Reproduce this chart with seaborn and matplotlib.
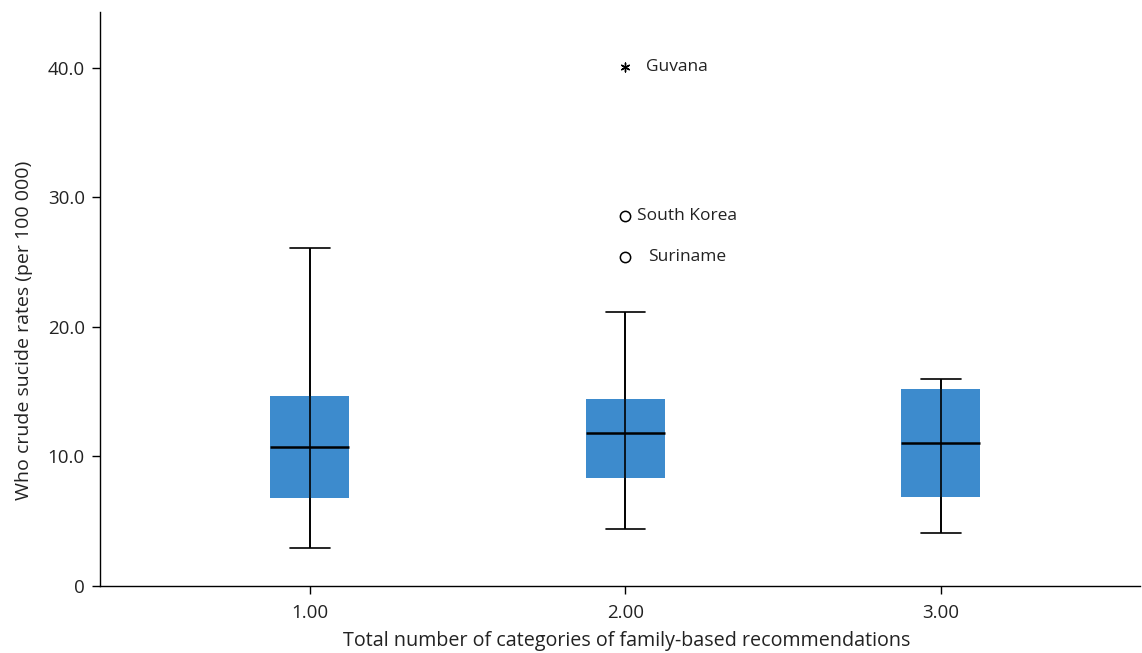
import numpy as np
import pandas as pd
import matplotlib
matplotlib.use("Agg")
import matplotlib.pyplot as plt
import seaborn as sns

# Box summaries (per 100 000)
categories = ["1.00", "2.00", "3.00"]
whisker_low = [2.93, 4.40, 4.09]
q1 = [6.80, 8.34, 6.87]
median = [10.73, 11.81, 11.04]
q3 = [14.67, 14.44, 15.21]
whisker_high = [26.10, 21.16, 15.98]

# Outliers in group 2.00
outlier_names = ["Guvana", "South Korea", "Suriname"]
outlier_values = [40.08, 28.57, 25.40]
outlier_group = ["2.00", "2.00", "2.00"]
outlier_kind = ["extreme", "mild", "mild"]

y_ticks = [0, 10, 20, 30, 40]
y_tick_labels = ["0", "10.0", "20.0", "30.0", "40.0"]

# five-number summary per group -> seaborn computes the same boxes
rows = []
for cat, lo, a, m, b, hi in zip(categories, whisker_low, q1, median, q3, whisker_high):
    for v in (lo, a, m, b, hi):
        rows.append({"group": cat, "rate": v})
box_df = pd.DataFrame(rows)

sns.set_style("ticks")
plt.rcParams["font.family"] = ["Open Sans", "DejaVu Sans"]

box_color = "#3d8bcd"
text_color = "#222222"

fig = plt.figure(figsize=(11.42, 6.53), dpi=100)
ax = fig.add_axes([0.0876, 0.1026, 0.9104, 0.879])

sns.boxplot(data=box_df, x="group", y="rate", order=categories, ax=ax,
            color=box_color, saturation=1, width=0.25, whis=np.inf,
            linecolor="black", linewidth=1.2, showfliers=False,
            boxprops=dict(edgecolor=box_color, linewidth=0),
            medianprops=dict(color="black", linewidth=1.8, zorder=5),
            capprops=dict(color="black", linewidth=1.2))

# whiskers run through the box, SPSS style
ax.vlines(range(len(categories)), whisker_low, whisker_high,
          color="black", linewidth=1.2, zorder=4)

# outliers
offsets = {"Guvana": 15, "South Korea": 8, "Suriname": 16.5}
for name, val, grp, kind in zip(outlier_names, outlier_values, outlier_group, outlier_kind):
    xpos = categories.index(grp)
    if kind == "extreme":
        ax.scatter(xpos, val, marker=(6, 2, 0), s=40, color="black",
                   linewidths=1.0, zorder=6)
    else:
        ax.scatter(xpos, val, marker="o", s=55, facecolor="white",
                   edgecolor="black", linewidths=1.1, zorder=6)
    ax.annotate(name, (xpos, val), xytext=(offsets[name], 0),
                textcoords="offset points", ha="left", va="center",
                fontsize=12.5, color=text_color)

ax.set_xlim(-0.665, 2.63)
ax.set_ylim(0, 44.3)
ax.set_yticks(y_ticks)
ax.set_yticklabels(y_tick_labels)
ax.tick_params(axis="both", labelsize=13.5, length=6, width=1, color="black",
               labelcolor=text_color)
ax.tick_params(axis="x", pad=7)
ax.tick_params(axis="y", pad=5)

ax.set_xlabel("Total number of categories of family-based recommendations",
              fontsize=14.2, color=text_color)
ax.set_ylabel("Who crude sucide rates (per 100 000)", fontsize=14,
              color=text_color)
ax.xaxis.set_label_coords(0.507, -0.078)
ax.yaxis.set_label_coords(-0.064, 0.446)

sns.despine(ax=ax)
for side in ("left", "bottom"):
    ax.spines[side].set_color("black")
    ax.spines[side].set_linewidth(1.0)

fig.savefig("out.png", dpi=100)
